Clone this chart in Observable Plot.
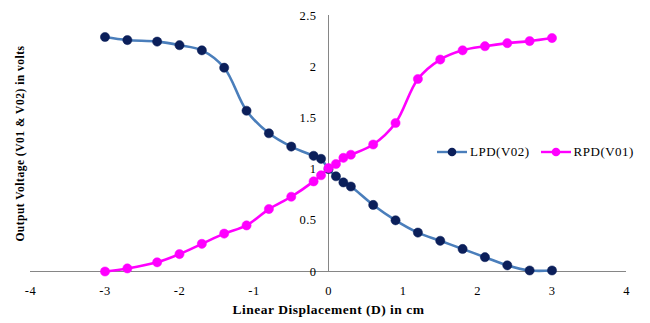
<!DOCTYPE html>
<html>
<head>
<meta charset="utf-8">
<script src="https://cdn.jsdelivr.net/npm/d3@7"></script>
<script src="https://cdn.jsdelivr.net/npm/@observablehq/plot@0.6"></script>
<style>
  body { margin: 0; background: #fff; }
  #wrap { position: relative; width: 650px; height: 323px; font-family: 'Liberation Serif', serif; }
  #legend { position: absolute; left: 436px; top: 144px; display: flex; align-items: center; font-size: 13px; color: #000; letter-spacing: 0.5px; white-space: nowrap; font-family: 'Liberation Serif', serif; }
  #legend .item { display: flex; align-items: center; margin-right: 10px; }
  #legend svg { margin-right: 2px; }
  #wrap svg text { font-family: 'Liberation Serif', serif; letter-spacing: 0.5px; }
</style>
</head>
<body>
<div id="wrap"></div>
<script>
// Data
const displacement = [-3, -2.7, -2.3, -2.0, -1.7, -1.4, -1.1, -0.8, -0.5, -0.2, -0.1, 0, 0.1, 0.2, 0.3, 0.6, 0.9, 1.2, 1.5, 1.8, 2.1, 2.4, 2.7, 3.0];
const lpdV02 = [2.29, 2.26, 2.245, 2.21, 2.16, 1.99, 1.57, 1.35, 1.22, 1.13, 1.10, 1.00, 0.93, 0.87, 0.83, 0.65, 0.50, 0.38, 0.30, 0.22, 0.14, 0.06, 0.01, 0.01];
const rpdV01 = [0.00, 0.03, 0.09, 0.17, 0.27, 0.37, 0.45, 0.61, 0.73, 0.88, 0.94, 1.01, 1.05, 1.11, 1.14, 1.24, 1.45, 1.88, 2.07, 2.16, 2.20, 2.23, 2.25, 2.28];
const xTicks = [-4, -3, -2, -1, 0, 1, 2, 3, 4];
const yTicks = [0, 0.5, 1, 1.5, 2, 2.5];
const seriesNames = ["LPD(V02)", "RPD(V01)"];
const lineColors = ["#4a7ebb", "#ff00ff"];
const dotColors = ["#0b1f5a", "#ff00ff"];
const xTitle = "Linear Displacement (D) in cm";
const yTitle = "Output Voltage (V01 & V02) in volts";

const lpd = displacement.map((d, i) => ({x: d, y: lpdV02[i]}));
const rpd = displacement.map((d, i) => ({x: d, y: rpdV01[i]}));

const font = "'Liberation Serif', serif";

const chart = Plot.plot({
  width: 650,
  height: 323,
  marginLeft: 30,
  marginRight: 24,
  marginTop: 15,
  marginBottom: 52,
  style: {fontFamily: font, background: "#fff", color: "#000", overflow: "visible"},
  x: {domain: [-4, 4], axis: null},
  y: {domain: [0, 2.5], axis: null},
  marks: [
    Plot.ruleY([0], {x1: -4, x2: 4, stroke: "#868686", strokeWidth: 1}),
    Plot.ruleX([0], {y1: 0, y2: 2.5, stroke: "#868686", strokeWidth: 1}),
    Plot.text(xTicks, {x: d => d, y: 0, dy: 19, text: d => String(d), fontSize: 12.5, fill: "#000"}),
    Plot.text(yTicks, {x: 0, y: d => d, dx: -12, textAnchor: "end", text: d => String(d), fontSize: 12.5, fill: "#000"}),
    Plot.line(lpd, {x: "x", y: "y", stroke: lineColors[0], strokeWidth: 2.6, curve: "catmull-rom"}),
    Plot.dot(lpd, {x: "x", y: "y", r: 4.6, fill: dotColors[0], stroke: dotColors[0], strokeWidth: 0.5}),
    Plot.line(rpd, {x: "x", y: "y", stroke: lineColors[1], strokeWidth: 2.6, curve: "catmull-rom"}),
    Plot.dot(rpd, {x: "x", y: "y", r: 4.6, fill: dotColors[1], stroke: dotColors[1], strokeWidth: 0.5}),
    Plot.text([xTitle], {frameAnchor: "bottom", dy: 42, text: d => d, fontSize: 13.5, fontWeight: "bold", fill: "#000"}),
    Plot.text([yTitle], {frameAnchor: "left", dx: -10, rotate: -90, textAnchor: "middle", text: d => d, fontSize: 11.5, fontWeight: "bold", fill: "#000"})
  ]
});

const wrap = document.getElementById("wrap");
wrap.appendChild(chart);

const legend = document.createElement("div");
legend.id = "legend";
seriesNames.forEach((name, i) => {
  const item = document.createElement("div");
  item.className = "item";
  item.innerHTML = `<svg width="32" height="12"><line x1="1" y1="6" x2="31" y2="6" stroke="${lineColors[i]}" stroke-width="2.4"/><circle cx="16" cy="6" r="4.3" fill="${dotColors[i]}"/></svg><span>${name}</span>`;
  legend.appendChild(item);
});
wrap.appendChild(legend);
</script>
</body>
</html>
